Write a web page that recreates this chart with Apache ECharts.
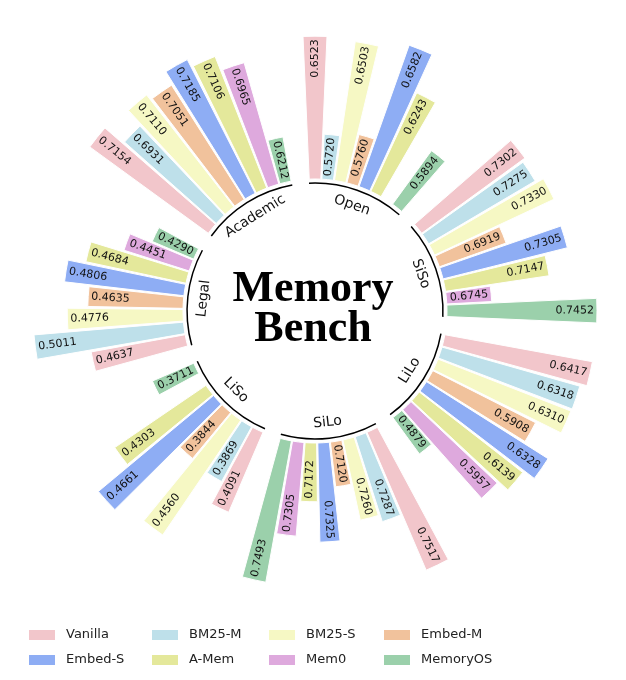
<!DOCTYPE html>
<html><head><meta charset="utf-8">
<script src="https://cdn.jsdelivr.net/npm/echarts@6/dist/echarts.min.js"></script>
<style>html,body{margin:0;padding:0;background:#fff}#c{width:626px;height:680px}</style>
</head><body><div id="c"></div>
<script>
// ---- data ----
const groups = ['Open', 'SiSo', 'LiLo', 'SiLo', 'LiSo', 'Legal', 'Academic'];
const methods = ['Vanilla', 'BM25-M', 'BM25-S', 'Embed-M', 'Embed-S', 'A-Mem', 'Mem0', 'MemoryOS'];
const vanilla  = [0.6523, 0.7302, 0.6417, 0.7517, 0.4091, 0.4637, 0.7154];
const bm25m    = [0.5720, 0.7275, 0.6318, 0.7287, 0.3869, 0.5011, 0.6931];
const bm25s    = [0.6503, 0.7330, 0.6310, 0.7260, 0.4560, 0.4776, 0.7110];
const embedm   = [0.5760, 0.6919, 0.5908, 0.7120, 0.3844, 0.4635, 0.7051];
const embeds   = [0.6582, 0.7305, 0.6328, 0.7325, 0.4661, 0.4806, 0.7185];
const amem     = [0.6243, 0.7147, 0.6139, 0.7172, 0.4303, 0.4684, 0.7106];
const mem0     = [null,   0.6745, 0.5957, 0.7305, null,   0.4451, 0.6965];
const memoryos = [0.5894, 0.7452, 0.4879, 0.7493, 0.3711, 0.4290, 0.6212];
const seriesValues = [vanilla, bm25m, bm25s, embedm, embeds, amem, mem0, memoryos];
const colors = ['#F2C6CB', '#BEE0EA', '#F6F8C4', '#F1C29C', '#8EADF4', '#E4E89B', '#DEA9DD', '#9BD0AB'];

// ---- layout constants ----
const GROUP_STEP = 360 / groups.length;
const SLOT = 5.5, BAR_W = 5.0;
const BASE = 0.88, MINLEN = 0.3, LABEL_PAD = 0.02;
const ARC_R = 0.853, ARC_PAD = 2.7, GLABEL_R = 0.747;

function groupRange(k) {
  const vals = seriesValues.map(s => s[k]).filter(v => v != null);
  return [Math.min(...vals), Math.max(...vals)];
}

function renderBar(params, api) {
  const rOut = api.value(0), th = api.value(1), v = api.value(2);
  const cs = params.coordSys;
  const pIn = api.coord([BASE, th]);
  const pOut = api.coord([rOut, th]);
  const aA = -api.coord([BASE, th - BAR_W / 2])[3];
  const aB = -api.coord([BASE, th + BAR_W / 2])[3];
  const flip = th > 180;
  const alpha = flip ? th - 270 : th - 90;
  const pl = api.coord([rOut - LABEL_PAD, th]);
  return {
    type: 'group', children: [
      { type: 'sector', shape: { cx: cs.cx, cy: cs.cy, r0: pIn[2], r: pOut[2],
          startAngle: Math.min(aA, aB), endAngle: Math.max(aA, aB), clockwise: true },
        style: { fill: api.visual('color'), stroke: '#fff', lineWidth: 1 } },
      { type: 'text', x: pl[0], y: pl[1], rotation: -alpha * Math.PI / 180,
        style: { text: v.toFixed(4), align: flip ? 'left' : 'right', verticalAlign: 'middle',
          fontSize: 11, fontFamily: 'DejaVu Sans', fill: '#111' } }
    ]
  };
}

const barSeries = methods.map((m, j) => ({
  type: 'custom', name: m, coordinateSystem: 'polar', silent: true,
  itemStyle: { color: colors[j] },
  data: seriesValues[j].map((v, k) => {
    if (v == null) return null;
    const [lo, hi] = groupRange(k);
    const len = MINLEN + (1 - MINLEN) * (v - lo) / (hi - lo);
    return [BASE + len, k * GROUP_STEP + j * SLOT, v];
  }).filter(d => d),
  renderItem: renderBar
}));

const groupSeries = {
  type: 'custom', name: '_groups', coordinateSystem: 'polar', silent: true,
  data: groups.map((g, k) => [ARC_R, k * GROUP_STEP + 3.5 * SLOT]),
  renderItem(params, api) {
    const th = api.value(1);
    const cs = params.coordSys;
    const half = 3.5 * SLOT + ARC_PAD;
    const a = api.coord([ARC_R, th - half]);
    const b = api.coord([ARC_R, th + half]);
    const lp = api.coord([GLABEL_R, th]);
    let rot = (th > 90 && th < 270) ? th - 180 : (th >= 270 ? th - 360 : th);
    return {
      type: 'group', children: [
        { type: 'arc', shape: { cx: cs.cx, cy: cs.cy, r: a[2],
            startAngle: Math.min(-a[3], -b[3]), endAngle: Math.max(-a[3], -b[3]), clockwise: true },
          style: { stroke: '#000', fill: null, lineWidth: 1.5 } },
        { type: 'text', x: lp[0], y: lp[1], rotation: -rot * Math.PI / 180,
          style: { text: groups[params.dataIndex], align: 'center', verticalAlign: 'middle',
            fontSize: 14, fontFamily: 'DejaVu Sans', fill: '#111' } }
      ]
    };
  }
};

const legendCols = [['Vanilla', 'Embed-S'], ['BM25-M', 'A-Mem'], ['BM25-S', 'Mem0'], ['Embed-M', 'MemoryOS']];
const legendLeft = [29, 152, 269, 384];

const chart = echarts.init(document.getElementById('c'));
chart.setOption({
  animation: false,
  backgroundColor: '#fff',
  title: {
    text: 'Memory\nBench', left: 'center', top: 270, padding: 0,
    textStyle: { fontFamily: 'Liberation Serif', fontWeight: 'bold', fontSize: 44, lineHeight: 40, color: '#000' }
  },
  polar: { center: [315, 311], radius: 282 },
  angleAxis: { type: 'value', min: 0, max: 360, startAngle: 90, clockwise: true, show: false },
  radiusAxis: { type: 'value', min: 0, max: 1.88, show: false },
  legend: legendCols.map((d, i) => ({
    data: d, left: legendLeft[i], top: 628, orient: 'vertical', padding: 0,
    itemWidth: 26, itemHeight: 10, itemGap: 11, icon: 'rect', selectedMode: false,
    textStyle: { fontSize: 13, fontFamily: 'DejaVu Sans', color: '#222', padding: [0, 0, 0, 6], lineHeight: 14 }
  })),
  series: [groupSeries, ...barSeries]
});
</script></body></html>
